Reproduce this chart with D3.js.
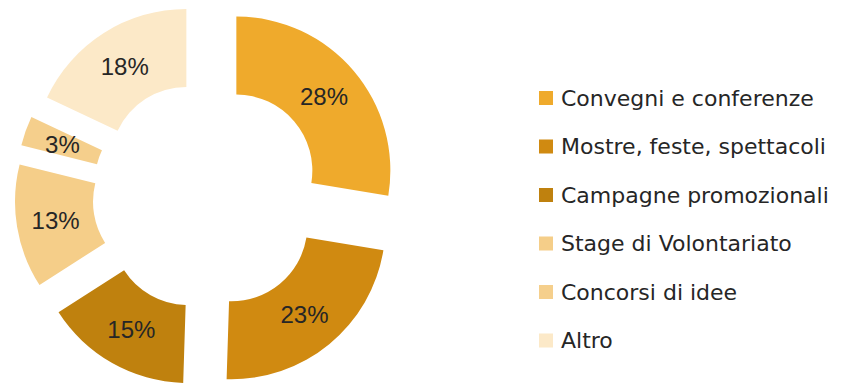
<!DOCTYPE html>
<html>
<head>
<meta charset="utf-8">
<script src="https://cdn.jsdelivr.net/npm/d3@7"></script>
<style>
  body { margin: 0; background: #fff; }
  .lbl { font-family: "Liberation Sans", Arial, sans-serif; font-size: 24px; fill: #262626; }
  .leg { font-family: "DejaVu Sans", sans-serif; font-size: 22px; fill: #262626; }
</style>
</head>
<body>
<svg id="chart" width="841" height="383"></svg>
<script>
var categories = ['Convegni e conferenze', 'Mostre, feste, spettacoli', 'Campagne promozionali',
                  'Stage di Volontariato', 'Concorsi di idee', 'Altro']
// shares; labels show them rounded
var values = [27.6, 22.9, 15.4, 13.0, 3.1, 18.0]
var colors = ['#EFAA2C', '#D08A11', '#BF810E', '#F5CE89', '#F5CF8C', '#FCE9C8']

var data = categories.map(function(c, i){ return {name: c, value: values[i], color: colors[i]} })

var svg = d3.select('#chart')
var cx = 207, cy = 195.5
var rOuter = 154, rInner = 76, explode = 38.5

var pie = d3.pie().sort(null).value(function(d){ return d.value })
var arc = d3.arc().innerRadius(rInner).outerRadius(rOuter)

var g = svg.append('g').attr('transform', 'translate(' + cx + ',' + cy + ')')

var slices = g.selectAll('g.slice')
  .data(pie(data))
  .join('g')
  .attr('class', 'slice')
  .attr('transform', function(d){
    var mid = (d.startAngle + d.endAngle) / 2
    return 'translate(' + (explode * Math.sin(mid)) + ',' + (-explode * Math.cos(mid)) + ')'
  })

slices.append('path')
  .attr('d', arc)
  .attr('fill', function(d){ return d.data.color })

slices.append('text')
  .attr('class', 'lbl')
  .attr('transform', function(d){ return 'translate(' + arc.centroid(d) + ')' })
  .attr('text-anchor', 'middle')
  .attr('dy', '0.36em')
  .text(function(d){ return Math.round(d.data.value) + '%' })

// legend
var legend = svg.append('g').attr('transform', 'translate(539,98)')
var rowH = 48.5

var rows = legend.selectAll('g.row')
  .data(data)
  .join('g')
  .attr('class', 'row')
  .attr('transform', function(d, i){ return 'translate(0,' + (i * rowH) + ')' })

rows.append('rect')
  .attr('x', 0).attr('y', -7)
  .attr('width', 14).attr('height', 14)
  .attr('fill', function(d){ return d.color })

rows.append('text')
  .attr('class', 'leg')
  .attr('x', 22)
  .attr('dy', '0.36em')
  .text(function(d){ return d.name })
</script>
</body>
</html>
